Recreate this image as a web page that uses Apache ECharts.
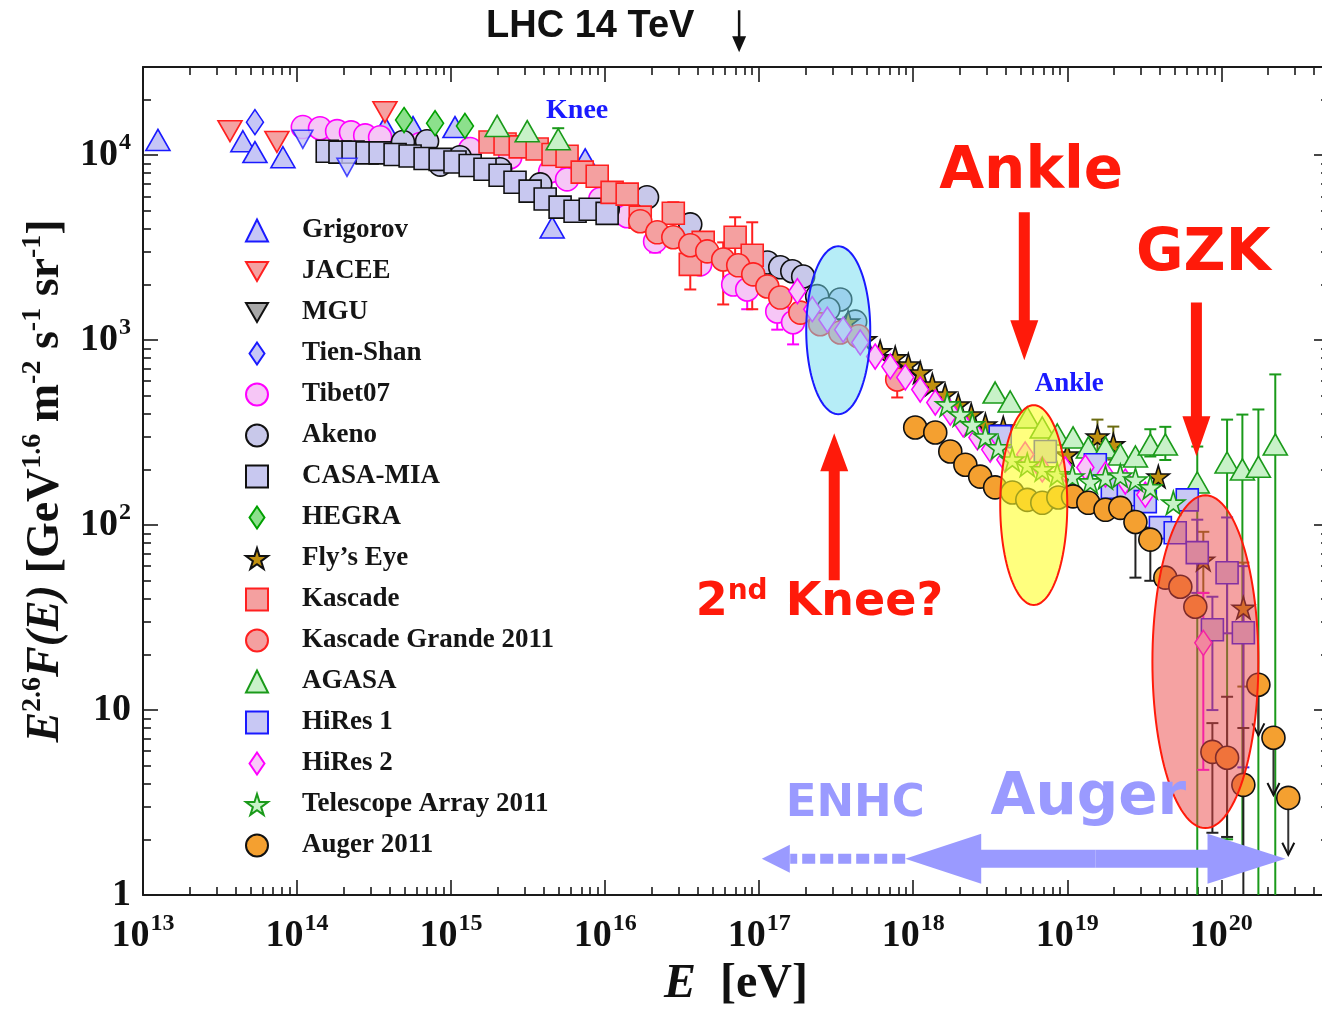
<!DOCTYPE html>
<html><head><meta charset="utf-8">
<script src="https://cdn.jsdelivr.net/npm/echarts@6/dist/echarts.min.js"></script>
<style>html,body{margin:0;padding:0;background:#fff}#c{width:1322px;height:1009px}</style>
</head><body><div id="c"></div>
<script>
// ---------- tick values ----------
const X_MAJOR = [1e13,1e14,1e15,1e16,1e17,1e18,1e19,1e20];
const Y_MAJOR = [1,10,100,1000,10000];
// ---------- data (E [eV], E^2.6 F(E)) ----------
const grigorov = [[1.25e13,1.21e4],[4.45e13,1.19e4],[5.33e13,1.04e4],[8.1e13,9.75e3],[3.72e14,1.42e4],[5.66e14,1.42e4],[1.06e15,1.42e4],[4.53e15,4.07e3],[7.42e15,9.5e3]];
const grigorovDown = [[1.09e14,1.22e4],[2.11e14,8.6e3]];
const jacee = [[3.67e13,1.35e4],[7.4e13,1.18e4],[3.72e14,1.71e4]];
const mgu = [];
const tienShan = [[5.33e13,1.51e4]];
const tibet07 = [[1.09e14,1.42e4],[1.41e14,1.40e4],[1.82e14,1.35e4],[2.24e14,1.33e4],[2.77e14,1.28e4],[3.46e14,1.25e4],[6.3e14,1.15e4],[1.33e15,1.08e4],[2.42e15,9.75e3],[4.4e15,8.2e3],[5.66e15,7.4e3],[9.3e15,5.8e3],[1.39e16,4.68e3],[2.11e16,3.42e3],[4.14e16,2.57e3],[6.78e16,2.0e3],[8.36e16,1.88e3],[1.31e17,1.43e3],[1.66e17,1.25e3]];
const akeno = [[4.87e14,1.18e4],[6.98e14,1.19e4],[8.5e14,8.9e3],[1.14e15,9.75e3],[2.08e15,8.4e3],[3.79e15,6.96e3],[1.04e16,5.1e3],[1.87e16,5.93e3],[3.57e16,4.23e3],[1.13e17,2.63e3],[1.37e17,2.48e3],[1.64e17,2.36e3],[1.93e17,2.21e3],[2.38e17,1.73e3],[3.36e17,1.66e3],[2.81e17,1.47e3],[4.2e17,1.26e3]];
const casaMia = [[1.57e14,1.05e4],[1.9e14,1.04e4],[2.31e14,1.04e4],[2.85e14,1.03e4],[3.46e14,1.03e4],[4.33e14,1.01e4],[5.42e14,9.9e3],[6.78e14,9.6e3],[8.49e14,9.5e3],[1.06e15,9.2e3],[1.33e15,8.8e3],[1.66e15,8.4e3],[2.08e15,7.8e3],[2.6e15,7.14e3],[3.26e15,6.4e3],[4.08e15,5.8e3],[5.1e15,5.24e3],[6.38e15,4.98e3],[8.0e15,5.1e3],[1.03e16,4.85e3]];
const hegra = [[4.95e14,1.55e4],[7.87e14,1.49e4],[1.23e15,1.44e4]];
const flysEye = [[3.78e17,1.26e3],[4.88e17,1.01e3],[6.1e17,869],[7.64e17,807],[9.29e17,739],[1.11e18,669],[1.33e18,576],[1.61e18,508],[1.96e18,449],[2.38e18,396],[2.94e18,350],[3.84e18,337],[1.0e19,241],[1.57e19,301],[1.99e19,273],[3.9e19,183],[7.64e19,65],[1.39e20,35.7]];
const kascade = [[1.79e15,1.18e4],[2.24e15,1.15e4],[2.81e15,1.11e4],[3.62e15,1.08e4],[4.59e15,1.01e4],[5.66e15,9.88e3],[7.1e15,8.1e3],[8.88e15,7.7e3],[1.11e16,6.3e3],[1.39e16,6.16e3],[1.69e16,4.63e3],[2.77e16,4.86e3],[3.57e16,2.57e3],[4.33e16,3.38e3],[6.98e16,3.6e3],[9.01e16,2.88e3]];
const kascadeGrande = [[1.69e16,4.4e3],[2.18e16,3.83e3],[2.77e16,3.6e3],[3.57e16,3.26e3],[4.6e16,3.02e3],[5.84e16,2.73e3],[7.31e16,2.54e3],[9.15e16,2.27e3],[1.13e17,1.95e3],[1.37e17,1.7e3],[1.85e17,1.41e3],[2.49e17,1.22e3],[3.36e17,1.1e3],[4.4e17,1.05e3],[7.87e17,613]];
const agasa = [[1.99e15,1.44e4],[3.12e15,1.35e4],[4.96e15,1.22e4],[3.4e18,521],[4.26e18,466],[5.5e18,382],[6.88e18,337],[8.61e18,309],[1.09e19,298],[1.37e19,263],[1.77e19,263],[2.21e19,241],[2.77e19,235],[3.46e19,273],[4.33e19,273],[6.98e19,170],[1.09e20,218],[1.37e20,200],[1.74e20,207],[2.24e20,273]];
const hiRes1 = [[3.67e18,301],[7.2e18,250],[1.52e19,212],[1.96e19,160],[2.49e19,146],[3.21e19,134],[4.02e19,96.9],[5.02e19,91],[6.01e19,137],[6.98e19,71],[8.75e19,27.2],[1.09e20,55.3],[1.39e20,26.2]];
const hiRes2 = [[1.77e17,1.84e3],[2.21e17,1.47e3],[2.77e17,1.29e3],[3.51e17,1.14e3],[4.53e17,972],[5.66e17,816],[7.1e17,721],[8.88e17,629],[1.11e18,541],[1.39e18,460],[1.74e18,406],[2.11e18,350],[2.61e18,298],[3.16e18,256],[3.96e18,226],[5.33e18,241],[6.88e18,200],[9.7e18,200],[1.31e19,205],[1.77e19,188],[2.38e19,172],[3.21e19,146],[7.64e19,23.1]];
const telescopeArray = [[1.66e18,449],[2.02e18,396],[2.42e18,350],[2.94e18,301],[3.57e18,263],[4.4e18,226],[5.5e18,212],[6.88e18,200],[8.61e18,188],[1.08e19,183],[1.41e19,172],[1.77e19,181],[2.21e19,185],[2.77e19,176],[3.46e19,160],[4.88e19,132]];
const auger = [[1.03e18,337],[1.39e18,317],[1.74e18,250],[2.18e18,212],[2.72e18,183],[3.4e18,160],[4.4e18,150],[5.5e18,137],[6.88e18,132],[8.75e18,141],[1.09e19,143],[1.37e19,132],[1.77e19,121],[2.21e19,124],[2.77e19,104],[3.46e19,83.5],[4.33e19,52],[5.42e19,46.4],[6.78e19,36.2],[8.75e19,5.94],[1.09e20,5.52],[1.39e20,3.94],[1.74e20,13.7],[2.18e20,7.08],[2.72e20,3.35]];
// error bars [E, low, high]
const errTibet07 = [[2.11e16,2.98e3,3.9e3],[8.36e16,1.47e3,2.3e3],[1.31e17,1.14e3,1.7e3],[1.66e17,949,1.5e3]];
const errKascade = [[2.77e16,4.07e3,5.57e3],[3.57e16,1.88e3,3.3e3],[6.98e16,2.67e3,4.62e3],[9.01e16,1.47e3,4.34e3]];
const errKascadeGrande = [[5.84e16,1.56e3,3.38e3],[7.87e17,490,730]];
const errAgasa = [[4.96e15,1.1e4,1.4e4],[3.46e19,235,330],[4.33e19,225,340],[6.98e19,0.5,266],[1.09e20,2.0,372],[1.37e20,1.55,396],[1.74e20,0.5,422],[2.24e20,0.5,653]];
const errFlysEye = [[1.57e19,241,372],[1.99e19,226,341],[7.64e19,43,92],[1.39e20,13.4,62.7]];
const errHiRes1 = [[6.98e19,43,107],[8.75e19,10,41],[1.09e20,26,110],[1.39e20,4.9,60]];
const errHiRes2 = [[7.64e19,4.75,43]];
const errAuger = [[2.77e19,52,120],[3.46e19,50,97],[8.75e19,2.17,8.5],[1.09e20,2.06,11.8],[1.39e20,0.5,8]];
// Auger upper limits [E, value, arrow end]
const augerLimits = [[1.74e20,13.7,7.3],[2.18e20,7.08,3.47],[2.72e20,3.35,1.65]];

// ---------- annotations (data coordinates) ----------
const annotEllipses = [[2.02e17,5.26e17,398,3.22e3],[3.67e18,1.0e19,37.0,445],[3.57e19,1.74e20,2.30,145]];
const annotArrows = [
  [5.26e18,4.92e3,5.26e18,780],
  [6.89e19,1.6e3,6.89e19,236],
  [3.07e17,50.4,3.07e17,314],
  [1.52e19,1.57,8.87e17,1.57],
  [1.52e19,1.57,2.61e20,1.57],
  [8.87e17,1.57,1.59e17,1.57],
  [1.59e17,1.57,1.04e17,1.57],
  [7.41e16,6.08e4,7.41e16,3.6e4]
];
const annotTexts = [[6.58e15,1.75e4],[1.03e19,576],[5.83e18,8.0e3],[7.64e19,2.88e3],[2.46e17,38],[4.2e17,3.1],[1.37e19,3.3],[8.0e15,4.99e4]];
const textLabels = ['Knee','Ankle','Ankle','GZK','{a|2}{s|nd}{a| Knee?}','ENHC','Auger','LHC 14 TeV'];

// ---------- styles ----------
const TRI_DOWN = 'path://M0,0 L100,0 L50,87 Z';
const STAR = 'path://M50,0 L61,35 L98,35 L68,57 L79,91 L50,70 L21,91 L32,57 L2,35 L39,35 Z';
const DIAMOND = 'path://M34,0 L68,50 L34,100 L0,50 Z';
const seriesDefs = [
  ['Grigorov', grigorov, 'triangle', [24,21], '#c6c6f6', '#1a1aff'],
  ['JACEE', jacee, TRI_DOWN, [24,21], '#f4a2a2', '#ff2020'],
  ['MGU', mgu, TRI_DOWN, [24,21], '#a8a8a8', '#111'],
  ['Tien-Shan', tienShan, DIAMOND, [17,25], '#c6c6f6', '#1a1aff'],
  ['Tibet07', tibet07, 'circle', 23, '#f6c6f6', '#ff00ff'],
  ['Akeno', akeno, 'circle', 23, '#c8c8ea', '#111'],
  ['CASA-MIA', casaMia, 'rect', 22, '#c8c8f0', '#111'],
  ['HEGRA', hegra, DIAMOND, [17,25], '#8ce08c', '#00a000'],
  ['Fly\u2019s Eye', flysEye, STAR, 22, '#c09010', '#111'],
  ['Kascade', kascade, 'rect', 22, '#f4a0a0', '#ff2020'],
  ['Kascade Grande 2011', kascadeGrande, 'circle', 23, '#f4a0a0', '#ff2020'],
  ['AGASA', agasa, 'triangle', [24,21], '#c8f2c8', '#1a9a1a'],
  ['HiRes 1', hiRes1, 'rect', 22, '#c8c8f4', '#1a1aff'],
  ['HiRes 2', hiRes2, DIAMOND, [17,25], '#f8c8f8', '#ff00ff'],
  ['Telescope Array 2011', telescopeArray, STAR, 23, '#c8f2c8', '#1a9a1a'],
  ['Auger 2011', auger, 'circle', 23, '#f4a030', '#111']
];
const errDefs = [
  [errTibet07,'#ff00ff'],[errKascade,'#ff2020'],[errKascadeGrande,'#ff2020'],[errAgasa,'#1a9a1a'],
  [errFlysEye,'#6b6b10'],[errHiRes1,'#3a2ae0'],[errHiRes2,'#ff00ff'],[errAuger,'#222']
];
const ellipseStyles = [
  {fill:'rgba(110,220,240,0.5)', stroke:'#1a1aff'},
  {fill:'rgba(255,255,40,0.6)', stroke:'#ff1a0a'},
  {fill:'rgba(235,70,70,0.5)', stroke:'#ff1a0a'}
];
const RED = '#ff1a0a', LILAC = '#9a9aff';
const arrowStyles = [
  {kind:'arrow', color:RED, shaft:11, headW:28, headL:40},
  {kind:'arrow', color:RED, shaft:11, headW:28, headL:40},
  {kind:'arrow', color:RED, shaft:11, headW:28, headL:38},
  {kind:'arrow', color:LILAC, shaft:18, headW:50, headL:76},
  {kind:'arrow', color:LILAC, shaft:18, headW:50, headL:78},
  {kind:'dash', color:LILAC, shaft:10},
  {kind:'arrow', color:LILAC, shaft:0, headW:28, headL:28},
  {kind:'arrow', color:'#111', shaft:2.5, headW:14, headL:16}
];
const textStyles = [
  {font:'bold 28px "Liberation Serif"', fill:'#1a1aff'},
  {font:'bold 27px "Liberation Serif"', fill:'#1a1aff'},
  {font:'bold 58px "DejaVu Sans"', fill:RED},
  {font:'bold 58px "DejaVu Sans"', fill:RED},
  {font:'bold 46px "DejaVu Sans"', fill:RED, rich:{a:{font:'bold 46px "DejaVu Sans"', fill:RED}, s:{font:'bold 28px "DejaVu Sans"', fill:RED, padding:[0,2,22,0]}}},
  {font:'bold 45px "DejaVu Sans"', fill:LILAC},
  {font:'bold 58px "DejaVu Sans"', fill:LILAC},
  {font:'bold 38px "Liberation Sans"', fill:'#111'}
];

// ---------- axes ----------
const X_MIN = 1e13, X_MAX = 5e20, Y_MIN = 1, Y_MAX = 3e4;
function minors(majors){ const out=[]; majors.forEach(m=>{for(let k=2;k<=9;k++) out.push(k*m);}); return out; }
const X_MINOR = minors(X_MAJOR).filter(v=>v<X_MAX);
const Y_MINOR = minors(Y_MAJOR).filter(v=>v<Y_MAX);
const FRAME = {color:'#1a1a1a', width:2};
const TICK = {color:'#1a1a1a', width:1.6};
const SERIF = '"Liberation Serif", "Times New Roman", serif';
const labRich = {
  b:{fontFamily:SERIF, fontWeight:'bold', fontSize:38, color:'#111'},
  s:{fontFamily:SERIF, fontWeight:'bold', fontSize:24, color:'#111', padding:[0,0,24,1]}
};
function expLabel(v){ const e=Math.round(Math.log10(v)); if(e===0) return '{b|1}'; if(e===1) return '{b|10}'; return '{b|10}{s|'+e+'}'; }
function xAx(pos, majorAxis, showLabels){
  const vals = majorAxis ? X_MAJOR : X_MINOR;
  return {type:'log', logBase:10, min:X_MIN, max:X_MAX, position:pos, gridIndex:0,
    axisLine:{show:majorAxis, lineStyle:FRAME, onZero:false},
    axisTick:{show:true, inside:true, length: majorAxis?15:8, lineStyle:TICK, customValues:vals},
    axisLabel:{show:showLabels, customValues:X_MAJOR, formatter:expLabel, rich:labRich, margin:17},
    splitLine:{show:false}, minorTick:{show:false}};
}
function yAx(pos, majorAxis, showLabels){
  const vals = majorAxis ? Y_MAJOR : Y_MINOR;
  return {type:'log', logBase:10, min:Y_MIN, max:Y_MAX, position:pos, gridIndex:0,
    axisLine:{show:majorAxis, lineStyle:FRAME, onZero:false},
    axisTick:{show:true, inside:true, length: majorAxis?15:8, lineStyle:TICK, customValues:vals},
    axisLabel:{show:showLabels, customValues:Y_MAJOR, formatter:expLabel, rich:labRich, margin:12},
    splitLine:{show:false}, minorTick:{show:false}};
}
const xAxes = [xAx('bottom',true,true), xAx('bottom',false,false), xAx('top',true,false), xAx('top',false,false)];
Object.assign(xAxes[0], {name:'{i|E}{n|  [eV]}', nameLocation:'middle', nameGap:66,
  nameTextStyle:{rich:{i:{fontFamily:SERIF, fontWeight:'bold', fontStyle:'italic', fontSize:48, color:'#111'}, n:{fontFamily:SERIF, fontWeight:'bold', fontSize:48, color:'#111'}}}});
const yAxes = [yAx('left',true,true), yAx('left',false,false), yAx('right',true,false), yAx('right',false,false)];
const nameRich = {
  i:{fontFamily:SERIF, fontWeight:'bold', fontStyle:'italic', fontSize:46, color:'#111'},
  n:{fontFamily:SERIF, fontWeight:'bold', fontSize:46, color:'#111'},
  s:{fontFamily:SERIF, fontWeight:'bold', fontSize:28, color:'#111', padding:[0,0,26,0]}
};
Object.assign(yAxes[0], {name:'{i|E}{s|2.6}{i|F(E)}{n| [GeV}{s|1.6}{n| m}{s|-2}{n| s}{s|-1}{n| sr}{s|-1}{n|]}',
  nameLocation:'middle', nameGap:64, nameRotate:90, nameTextStyle:{rich:nameRich}});

// ---------- series ----------
const series = [];
errDefs.forEach(([data,color])=>{
  series.push({type:'custom', data, xAxisIndex:0, yAxisIndex:0, z:2, silent:true, clip:true,
    renderItem(params, api){
      const x=api.value(0), a=api.coord([x,api.value(2)]), b=api.coord([x,api.value(1)]), c=6;
      return {type:'group', children:[
        {type:'line', shape:{x1:a[0],y1:a[1],x2:b[0],y2:b[1]}, style:{stroke:color,lineWidth:2}},
        {type:'line', shape:{x1:a[0]-c,y1:a[1],x2:a[0]+c,y2:a[1]}, style:{stroke:color,lineWidth:2}},
        {type:'line', shape:{x1:b[0]-c,y1:b[1],x2:b[0]+c,y2:b[1]}, style:{stroke:color,lineWidth:2}}]};
    }});
});
series.push({type:'custom', data:augerLimits, xAxisIndex:0, yAxisIndex:0, z:2, silent:true, clip:true,
  renderItem(params, api){
    const x=api.value(0), a=api.coord([x,api.value(1)]), b=api.coord([x,api.value(2)]);
    return {type:'group', children:[
      {type:'line', shape:{x1:a[0],y1:a[1],x2:b[0],y2:b[1]}, style:{stroke:'#333',lineWidth:2}},
      {type:'polyline', shape:{points:[[b[0]-6,b[1]-12],[b[0],b[1]],[b[0]+6,b[1]-12]]}, style:{stroke:'#111',lineWidth:2,fill:null}}]};
  }});
seriesDefs.forEach(([name,data,symbol,size,fill,stroke])=>{
  series.push({name, type:'scatter', data, symbol, symbolSize:size, xAxisIndex:0, yAxisIndex:0, z:3,
    itemStyle:{color:fill, borderColor:stroke, borderWidth:1.6, opacity:1}, emphasis:{disabled:true}});
});
series.push({name:'Grigorov', type:'scatter', data:grigorovDown, symbol:TRI_DOWN, symbolSize:[20,18], z:3,
  itemStyle:{color:'#c6c6f6', borderColor:'#1a1aff', borderWidth:1.6}, emphasis:{disabled:true}});
// ellipses
series.push({type:'custom', data:annotEllipses, z:5, silent:true, clip:false,
  renderItem(params, api){
    const p1=api.coord([api.value(0),api.value(3)]), p2=api.coord([api.value(1),api.value(2)]);
    const cx=(p1[0]+p2[0])/2, cy=(p1[1]+p2[1])/2, rx=Math.abs(p2[0]-p1[0])/2, ry=Math.abs(p2[1]-p1[1])/2;
    const pts=[]; for(let k=0;k<120;k++){const t=k/120*2*Math.PI; pts.push([cx+rx*Math.cos(t), cy+ry*Math.sin(t)]);}
    const st=ellipseStyles[params.dataIndex];
    return {type:'polygon', shape:{points:pts}, style:{fill:st.fill, stroke:st.stroke, lineWidth:2}};
  }});
// arrows
series.push({type:'custom', data:annotArrows, z:6, silent:true, clip:false,
  renderItem(params, api){
    const a=api.coord([api.value(0),api.value(1)]), b=api.coord([api.value(2),api.value(3)]);
    const st=arrowStyles[params.dataIndex];
    if(st.kind==='dash') return {type:'line', shape:{x1:a[0],y1:a[1],x2:b[0],y2:b[1]}, style:{stroke:st.color, lineWidth:st.shaft, lineDash:[13,5]}};
    const dx=b[0]-a[0], dy=b[1]-a[1], L=Math.hypot(dx,dy), ux=dx/L, uy=dy/L, nx=-uy, ny=ux;
    const nk=[b[0]-ux*st.headL, b[1]-uy*st.headL], s=st.shaft/2, h=st.headW/2;
    const pts=[[a[0]+nx*s,a[1]+ny*s],[nk[0]+nx*s,nk[1]+ny*s],[nk[0]+nx*h,nk[1]+ny*h],[b[0],b[1]],[nk[0]-nx*h,nk[1]-ny*h],[nk[0]-nx*s,nk[1]-ny*s],[a[0]-nx*s,a[1]-ny*s]];
    return {type:'polygon', shape:{points:pts}, style:{fill:st.color}};
  }});
// texts
series.push({type:'custom', data:annotTexts, z:7, silent:true, clip:false,
  renderItem(params, api){
    const p=api.coord([api.value(0),api.value(1)]); const st=textStyles[params.dataIndex];
    const style={text:textLabels[params.dataIndex], x:p[0], y:p[1], font:st.font, fill:st.fill, align:'center', verticalAlign:'middle'};
    if(st.rich) style.rich=st.rich;
    return {type:'text', style};
  }});

const chart = echarts.init(document.getElementById('c'), null, {renderer:'canvas'});
chart.setOption({
  animation:false,
  backgroundColor:'#fff',
  textStyle:{fontFamily:SERIF},
  grid:{left:143, top:67, width:1186, height:828, containLabel:false, outerBoundsMode:'none'},
  xAxis:xAxes, yAxis:yAxes,
  legend:{data:seriesDefs.map(d=>d[0]), orient:'vertical', left:240, top:212, itemWidth:22, itemHeight:22, itemGap:14,
    selectedMode:false, textStyle:{fontFamily:SERIF, fontWeight:'bold', fontSize:27, color:'#151515', padding:[0,0,0,29]}},
  series
});
</script></body></html>
